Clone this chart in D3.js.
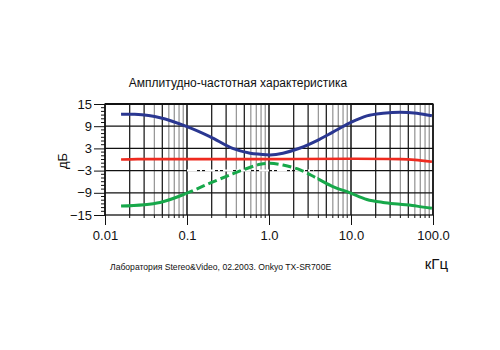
<!DOCTYPE html>
<html><head><meta charset="utf-8">
<script src="https://cdn.jsdelivr.net/npm/d3@7"></script>
<style>body{margin:0;background:#fff}svg{display:block}text{font-family:"Liberation Sans",Arial,sans-serif}</style>
</head><body><svg id="c" width="500" height="350"></svg>
<script>
const freqTicks = [0.01, 0.1, 1, 10, 100];
const freqTickLabels = ["0.01", "0.1", "1.0", "10.0", "100.0"];
const dbTicks = [15, 9, 3, -3, -9, -15];

const blueF = [0.0157, 0.023, 0.047, 0.1, 0.19, 0.36, 0.59, 0.78, 1.03, 1.48, 2.4, 3.85, 6.0, 9.7, 15.6, 24.6, 39.6, 63.6, 97];
const blueV = [12.2, 12.2, 11.3, 8.9, 6.2, 3.0, 1.7, 1.4, 1.2, 1.7, 3.1, 5.1, 7.4, 9.9, 11.8, 12.5, 12.8, 12.5, 11.8];

const redF = [0.0157, 0.025, 0.1, 1, 10, 40, 60, 97];
const redV = [0.0, 0.1, 0.1, 0.1, 0.2, 0.1, -0.1, -0.6];

const greenF = [0.0157, 0.047, 0.1, 0.19, 0.36, 0.59, 0.78, 1.03, 1.48, 2.4, 3.85, 6.0, 9.7, 15.6, 24.6, 39.6, 63.6, 97];
const greenV = [-12.6, -11.6, -9.1, -6.4, -3.9, -2.1, -1.3, -1.0, -1.5, -2.8, -5.1, -7.3, -9.0, -10.8, -11.6, -12.1, -12.6, -13.2];
const greenDashFrom = 0.095, greenDashTo = 3.9;

const title = "Амплитудно-частотная характеристика";
const yTitle = "дБ";
const xTitle = "кГц";
const footer = "Лаборатория Stereo&Video, 02.2003. Onkyo TX-SR700E";

const svg = d3.select("#c");
const L = 105, R = 433, T = 104, B = 215;
const x = d3.scaleLog().domain([0.01, 100]).range([L, R]);
const y = d3.scaleLinear().domain([-15, 15]).range([B, T]);

// grid
const minor = [];
for (let d = 0.01; d < 100; d *= 10) for (let k = 2; k <= 9; k++) minor.push(+(d * k).toPrecision(3));
const g = svg.append("g");
g.selectAll(".vm").data(minor).join("line")
  .attr("x1", d => x(d)).attr("x2", d => x(d)).attr("y1", T).attr("y2", B)
  .attr("stroke", d => { const m = Math.round(d / Math.pow(10, Math.floor(Math.log10(d) + 1e-9))); return (m === 2 || m === 3 || m === 5) ? "#222" : "#999"; })
  .attr("stroke-width", 1.3);
g.selectAll(".vM").data(freqTicks).join("line")
  .attr("x1", d => x(d)).attr("x2", d => x(d)).attr("y1", T).attr("y2", B)
  .attr("stroke", "#111").attr("stroke-width", 1.5);
g.selectAll(".h").data(dbTicks.slice(1, -1)).join("line")
  .attr("x1", L).attr("x2", R).attr("y1", d => y(d)).attr("y2", d => y(d))
  .attr("stroke", "#111").attr("stroke-width", 1.3);
// white dash-dot on -3 line
g.append("line").attr("x1", x(0.1)).attr("x2", x(3.5)).attr("y1", y(-3)).attr("y2", y(-3))
  .attr("stroke", "#fff").attr("stroke-width", 2).attr("stroke-dasharray", "10,3,2,3");

// frame
svg.append("rect").attr("x", L).attr("y", T).attr("width", R - L).attr("height", B - T)
  .attr("fill", "none").attr("stroke", "#111").attr("stroke-width", 1.3);
svg.append("line").attr("x1", L).attr("x2", R).attr("y1", T).attr("y2", T).attr("stroke", "#111").attr("stroke-width", 2);

// axes
const yAx = svg.append("g").attr("transform", `translate(${L},0)`)
  .call(d3.axisLeft(y).tickValues(dbTicks).tickSize(11).tickPadding(2).tickFormat(d3.format("d")));
yAx.select(".domain").remove();
yAx.selectAll("text").attr("font-size", 13).attr("fill", "#111");
yAx.selectAll("line").attr("stroke", "#111");
const yMin = d3.range(-15, 16, 1).filter(v => !dbTicks.includes(v));
svg.append("g").selectAll("line").data(yMin).join("line")
  .attr("x1", L - 4).attr("x2", L).attr("y1", d => y(d)).attr("y2", d => y(d)).attr("stroke", "#111");

const xAx = svg.append("g").attr("transform", `translate(0,${B})`)
  .call(d3.axisBottom(x).tickValues(freqTicks).tickSize(10).tickPadding(6).tickFormat((d, i) => freqTickLabels[i]));
xAx.select(".domain").remove();
xAx.selectAll("text").attr("font-size", 13).attr("fill", "#111");
xAx.selectAll("line").attr("stroke", "#111");
svg.append("g").selectAll("line").data(minor).join("line")
  .attr("x1", d => x(d)).attr("x2", d => x(d)).attr("y1", B).attr("y2", B + 3).attr("stroke", "#111");

// curves
const line = d3.line().x(d => x(d[0])).y(d => y(d[1])).curve(d3.curveCatmullRom.alpha(0.5));
const blue = blueF.map((f, i) => [f, blueV[i]]);
const red = redF.map((f, i) => [f, redV[i]]);
const green = greenF.map((f, i) => [f, greenV[i]]);
svg.append("path").attr("d", line(red)).attr("fill", "none").attr("stroke", "#ee2a1f").attr("stroke-width", 2.6);
svg.append("path").attr("d", line(blue)).attr("fill", "none").attr("stroke", "#2a3791").attr("stroke-width", 3);
const defs = svg.append("defs");
defs.append("clipPath").attr("id", "cs").selectAll("rect").data([[0.01, greenDashFrom], [greenDashTo, 100]]).join("rect")
  .attr("x", d => x(d[0])).attr("width", d => x(d[1]) - x(d[0])).attr("y", 0).attr("height", 350);
defs.append("clipPath").attr("id", "cd").append("rect")
  .attr("x", x(greenDashFrom)).attr("width", x(greenDashTo) - x(greenDashFrom)).attr("y", 0).attr("height", 350);
svg.append("path").attr("d", line(green)).attr("fill", "none").attr("stroke", "#17a84a").attr("stroke-width", 3).attr("clip-path", "url(#cs)");
svg.append("path").attr("d", line(green)).attr("fill", "none").attr("stroke", "#17a84a").attr("stroke-width", 3)
  .attr("stroke-dasharray", "9,4").attr("clip-path", "url(#cd)");

// texts
svg.append("text").attr("x", 238).attr("y", 87).attr("text-anchor", "middle").attr("font-size", 12).attr("fill", "#111").text(title);
svg.append("text").attr("transform", "translate(67,161) rotate(-90)").attr("text-anchor", "middle").attr("font-size", 13).attr("fill", "#111").text(yTitle);
svg.append("text").attr("x", 448).attr("y", 269).attr("text-anchor", "end").attr("font-size", 15).attr("fill", "#111").text(xTitle);
svg.append("text").attr("x", 110).attr("y", 270).attr("font-size", 8.6).attr("fill", "#111").text(footer);
</script></body></html>
